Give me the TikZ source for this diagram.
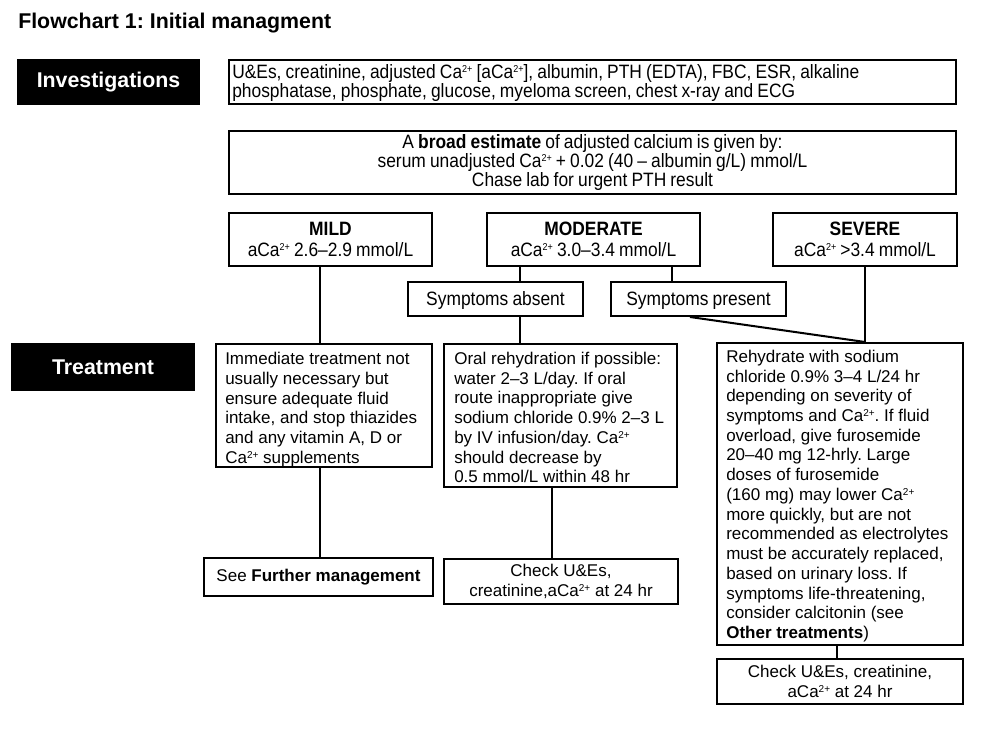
\documentclass[tikz,border=0pt]{standalone}
\usepackage{fontspec}
\setmainfont{Liberation Sans}
\newfontfamily\narrowfont[FakeStretch=0.9,WordSpace=0.85,Ligatures=TeX]{Liberation Sans}
\usetikzlibrary{calc}
\newcommand\caii{Ca\raisebox{0.55ex}{\fontsize{7.5pt}{7.5pt}\selectfont 2+}}
\frenchspacing
\begin{document}
\frenchspacing
\begin{tikzpicture}[x=0.75pt,y=-0.75pt,
  box/.style={draw, line width=1.5pt, inner sep=0pt, font=\fontsize{12.75pt}{15pt}\selectfont},
  nbox/.style={box, font=\narrowfont\fontsize{14.5pt}{15.5pt}\selectfont},
  txt/.style={inner sep=0pt, align=left, font=\fontsize{12.75pt}{14.8pt}\selectfont},
  lbl/.style={fill=black, text=white, inner sep=0pt, font=\bfseries\fontsize{16pt}{19pt}\selectfont},
  symbox/.style={nbox, minimum width=175*0.75pt, minimum height=34*0.75pt, text height=12pt, text depth=3pt},
  conn/.style={line width=1.5pt}]
\useasboundingbox (0,0) rectangle (994,736);
\fill[white] (0,0) rectangle (994,736);

\node[anchor=base west, inner sep=0pt, font=\bfseries\fontsize{16pt}{19pt}\selectfont] (title) at (18,28) {Flowchart 1: Initial managment};

\node[lbl, minimum width=183*0.75pt, minimum height=46*0.75pt] (invlbl) at (108.5,82) {Investigations};
\node[box, minimum width=727*0.75pt, minimum height=44*0.75pt] (inv) at (592.5,82) {};
\node[txt, anchor=west, font=\narrowfont\fontsize{14.5pt}{14.25pt}\selectfont] (invtext) at ($(inv.west)+(4,1)$)
  {U\&Es, creatinine, adjusted \caii{} [a\caii], albumin, PTH (EDTA), FBC, ESR, alkaline\\
   phosphatase, phosphate, glucose, myeloma screen, chest x-ray and ECG};

\node[nbox, align=center, minimum width=727*0.75pt, minimum height=63*0.75pt,
  font=\narrowfont\fontsize{14.5pt}{13.5pt}\selectfont] (broad) at (592.5,162.5)
  {A \textbf{broad estimate} of adjusted calcium is given by:\\
   serum unadjusted \caii{} + 0.02 (40 – albumin g/L) mmol/L\\
   Chase lab for urgent PTH result};

\node[nbox, align=center, minimum width=203*0.75pt, minimum height=53*0.75pt] (mild) at (330.5,239.5)
  {\textbf{MILD}\\a\caii{} 2.6–2.9 mmol/L};
\node[nbox, align=center, minimum width=213*0.75pt, minimum height=53*0.75pt] (mod) at (593.5,239.5)
  {\textbf{MODERATE}\\a\caii{} 3.0–3.4 mmol/L};
\node[nbox, align=center, minimum width=184*0.75pt, minimum height=53*0.75pt] (sev) at (865,239.5)
  {\textbf{SEVERE}\\a\caii{} >3.4 mmol/L};

\node[symbox] (sa) at (495.5,299) {Symptoms absent};
\node[symbox] (sp) at (698.5,299) {Symptoms present};

\node[lbl, minimum width=184*0.75pt, minimum height=48*0.75pt] (treatlbl) at (103,367) {Treatment};

\node[box, minimum width=216*0.75pt, minimum height=123*0.75pt] (mt) at (324,405.5) {};
\node[txt, anchor=west] (mttext) at ($(mt.west)+(10,4)$)
  {Immediate treatment not\\usually necessary but\\ensure adequate fluid\\intake, and stop thiazides\\and any vitamin A, D or\\\caii{} supplements};
\node[box, minimum width=233*0.75pt, minimum height=143*0.75pt] (modt) at (560.5,415.5) {};
\node[txt, anchor=west] (modttext) at ($(modt.west)+(11,2)$)
  {Oral rehydration if possible:\\water 2–3 L/day. If oral\\route inappropriate give\\sodium chloride 0.9\% 2–3 L\\by IV infusion/day. \caii\\should decrease by\\0.5 mmol/L within 48 hr};
\node[box, minimum width=246*0.75pt, minimum height=302*0.75pt] (sevt) at (840,494) {};
\node[txt, anchor=west] (sevttext) at ($(sevt.west)+(10,2)$)
  {Rehydrate with sodium\\chloride 0.9\% 3–4 L/24 hr\\depending on severity of\\symptoms and \caii. If fluid\\overload, give furosemide\\20–40 mg 12-hrly. Large\\doses of furosemide\\(160 mg) may lower \caii\\more quickly, but are not\\recommended as electrolytes\\must be accurately replaced,\\based on urinary loss. If\\symptoms life-threatening,\\consider calcitonin (see\\\textbf{Other treatments})};

\node[box, minimum width=229*0.75pt, minimum height=38*0.75pt] (sf) at (318.5,577) {See \textbf{Further management}};
\node[box, align=center, minimum width=234*0.75pt, minimum height=45*0.75pt] (mc) at (561,581.5)
  {Check U\&Es,\\creatinine,a\caii{} at 24 hr};
\node[box, align=center, minimum width=246*0.75pt, minimum height=45*0.75pt] (sc) at (840,681.5)
  {Check U\&Es, creatinine,\\a\caii{} at 24 hr};

\coordinate (xmild) at (320,0);
\coordinate (xsa) at (520,0);
\coordinate (xsp) at (672,0);
\coordinate (xmodt) at (552,0);
\coordinate (xsevt) at (837,0);
\coordinate (xdiag) at (690,0);

\draw[conn] (mild.south -| xmild) -- (mt.north -| xmild);
\draw[conn] (mt.south -| xmild) -- (sf.north -| xmild);
\draw[conn] (mod.south -| xsa) -- (sa.north -| xsa);
\draw[conn] (mod.south -| xsp) -- (sp.north -| xsp);
\draw[conn] (sa.south -| xsa) -- (modt.north -| xsa);
\draw[conn] (modt.south -| xmodt) -- (mc.north -| xmodt);
\draw[conn] (sev.south) -- (sevt.north -| sev.south);
\draw[conn] (sp.south -| xdiag) -- (sevt.north -| sev.south);
\draw[conn] (sevt.south -| xsevt) -- (sc.north -| xsevt);
\end{tikzpicture}
\end{document}
